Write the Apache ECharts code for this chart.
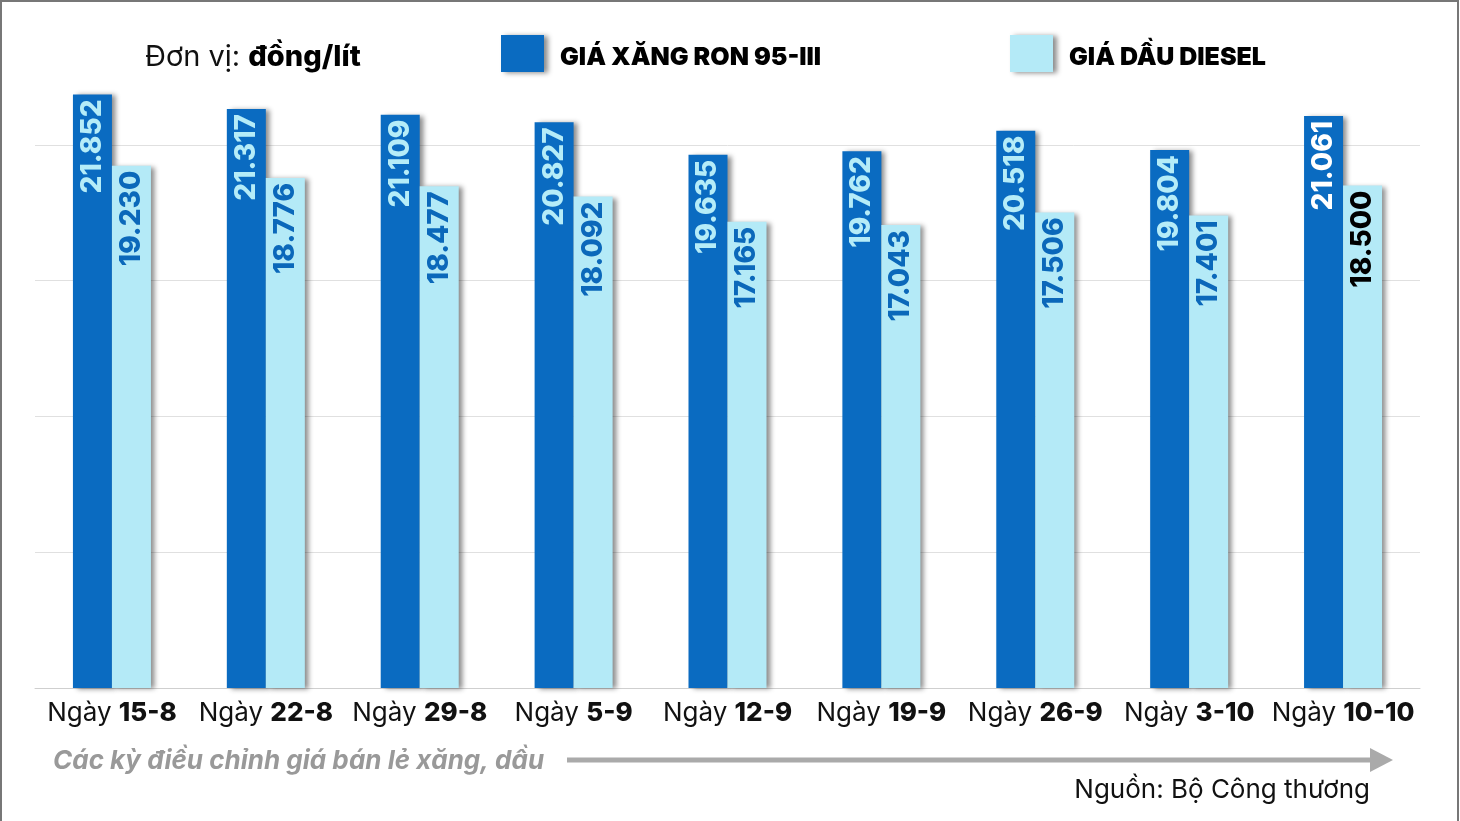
<!DOCTYPE html>
<html>
<head>
<meta charset="utf-8">
<script src="https://cdn.jsdelivr.net/npm/echarts@6/dist/echarts.min.js"></script>
<style>
html, body { margin: 0; padding: 0; background: #fff; }
#chart { width: 1460px; height: 821px; }
</style>
</head>
<body>
<div id="chart"></div>
<script>
// ngày điều chỉnh giá
const dates = ['15-8', '22-8', '29-8', '5-9', '12-9', '19-9', '26-9', '3-10', '10-10']
const ron95 = [21852, 21317, 21109, 20827, 19635, 19762, 20518, 19804, 21061]
const diesel = [19230, 18776, 18477, 18092, 17165, 17043, 17506, 17401, 18500]
const seriesNames = ['GIÁ XĂNG RON 95-III', 'GIÁ DẦU DIESEL']
const yMin = 0
const yMax = 25000
const yStep = 5000

const FONT = 'Inter, "Noto Sans", sans-serif'
const DARK = '#0a6bc1'
const LIGHT = '#b4eaf7'
const shadow = { shadowColor: 'rgba(0,0,0,0.45)', shadowBlur: 5, shadowOffsetX: 4, shadowOffsetY: 1 }
const last = dates.length - 1

function fmt(p) {
  return String(p.value).replace(/\B(?=(\d{3})+(?!\d))/g, '.')
}

function barLabel(color) {
  return {
    show: true,
    position: 'insideTop',
    rotate: 90,
    align: 'right',
    verticalAlign: 'middle',
    distance: 5,
    fontSize: 28,
    fontWeight: 800,
    fontFamily: FONT,
    color: color,
    formatter: fmt
  }
}

const legendBase = {
  top: 35,
  padding: 0,
  itemWidth: 43,
  itemHeight: 37,
  icon: 'rect',
  itemStyle: shadow,
  formatter: name => '{t|' + name + '}',
  textStyle: {
    rich: {
      t: { fontSize: 25, fontWeight: 900, fontFamily: FONT, color: '#000', padding: [8, 0, 0, 11] }
    }
  }
}

const chart = echarts.init(document.getElementById('chart'))
chart.setOption({
  animation: false,
  backgroundColor: '#fff',
  grid: { left: 35, right: 40, top: 9, bottom: 133 },
  legend: [
    Object.assign({ left: 501, data: [seriesNames[0]] }, legendBase),
    Object.assign({ left: 1010, data: [seriesNames[1]] }, legendBase)
  ],
  xAxis: {
    type: 'category',
    data: dates,
    axisTick: { show: false },
    axisLine: { lineStyle: { color: '#cfcfcf', width: 1 } },
    axisLabel: {
      margin: 12,
      interval: 0,
      formatter: v => '{a|Ngày }{b|' + v + '}',
      rich: {
        a: { fontSize: 26, fontFamily: FONT, fontWeight: 400, color: '#111' },
        b: { fontSize: 26, fontFamily: FONT, fontWeight: 800, color: '#111' }
      }
    }
  },
  yAxis: {
    type: 'value',
    min: yMin,
    max: yMax,
    interval: yStep,
    axisLabel: { show: false },
    axisLine: { show: false },
    axisTick: { show: false },
    splitLine: { showMaxLine: false, lineStyle: { color: '#e0e0e0', width: 1 } }
  },
  series: [
    {
      name: seriesNames[0],
      type: 'bar',
      barWidth: 39,
      barGap: '0%',
      itemStyle: Object.assign({ color: DARK }, shadow),
      label: barLabel('#b5ecf8'),
      data: ron95.map((v, i) => i === last ? { value: v, label: { color: '#fff' } } : v)
    },
    {
      name: seriesNames[1],
      type: 'bar',
      barWidth: 39,
      barGap: '0%',
      itemStyle: Object.assign({ color: LIGHT }, shadow),
      label: barLabel('#0b68ba'),
      data: diesel.map((v, i) => i === last ? { value: v, label: { color: '#000' } } : v)
    }
  ],
  graphic: [
    {
      type: 'polyline',
      shape: { points: [[1, 821], [1, 1], [1458, 1], [1458, 821]] },
      style: { stroke: '#777', lineWidth: 2, fill: null }
    },
    {
      type: 'text',
      x: 145,
      y: 57,
      style: {
        text: '{a|Đơn vị: }{b|đồng/lít}',
        verticalAlign: 'middle',
        rich: {
          a: { fontSize: 29, fontFamily: FONT, fontWeight: 400, fill: '#111' },
          b: { fontSize: 29, fontFamily: FONT, fontWeight: 800, fill: '#000' }
        }
      }
    },
    {
      type: 'text',
      x: 53,
      y: 761,
      style: {
        text: 'Các kỳ điều chỉnh giá bán lẻ xăng, dầu',
        verticalAlign: 'middle',
        fontSize: 26,
        fontStyle: 'italic',
        fontWeight: 700,
        fontFamily: FONT,
        fill: '#999'
      }
    },
    {
      type: 'line',
      shape: { x1: 567, y1: 760, x2: 1374, y2: 760 },
      style: { stroke: '#aaa', lineWidth: 5 }
    },
    {
      type: 'polygon',
      shape: { points: [[1370, 748], [1393, 760], [1370, 772]] },
      style: { fill: '#aaa' }
    },
    {
      type: 'text',
      x: 1370,
      y: 790,
      style: {
        text: 'Nguồn: Bộ Công thương',
        align: 'right',
        verticalAlign: 'middle',
        fontSize: 26,
        fontFamily: FONT,
        fill: '#111'
      }
    }
  ]
})
</script>
</body>
</html>
